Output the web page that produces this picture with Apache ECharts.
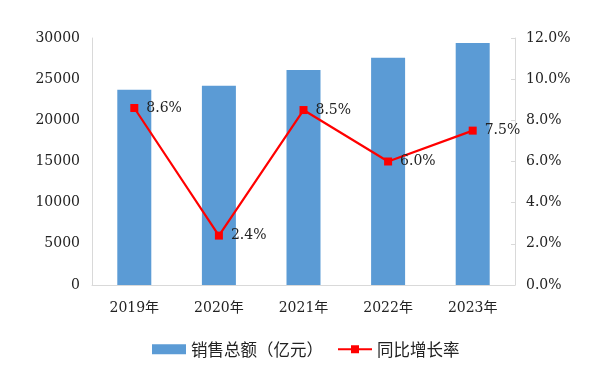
<!DOCTYPE html>
<html><head><meta charset="utf-8">
<script src="https://cdn.jsdelivr.net/npm/echarts@6/dist/echarts.min.js"></script>
<style>html,body{margin:0;padding:0;background:#fff}#c{width:606px;height:367px}</style>
</head><body><div id="c"></div>
<script>
var categories = ['2019年','2020年','2021年','2022年','2023年'];
var salesTotal = [23700, 24200, 26100, 27600, 29400];
var growthRate = [8.6, 2.4, 8.5, 6.0, 7.5];
var leftTicks = [0, 5000, 10000, 15000, 20000, 25000, 30000];
var rightTicks = [0, 2, 4, 6, 8, 10, 12];

var numFont = '"DejaVu Serif","Liberation Serif",serif';
var cjkFont = '"DejaVu Serif","Noto Sans CJK SC",serif';
var chart = echarts.init(document.getElementById('c'));
chart.setOption({
  animation: false,
  grid: {left: 92, right: 91, top: 38, bottom: 82},
  legend: {
    top: 336, left: 147, itemGap: 14, itemWidth: 34, itemHeight: 10,
    textStyle: {fontFamily: '"Noto Sans CJK SC",sans-serif', fontSize: 16.5, color: '#222'},
    data: [
      {name: '销售总额（亿元）', icon: 'rect'},
      {name: '同比增长率'}
    ]
  },
  xAxis: {
    type: 'category', data: categories,
    axisLine: {lineStyle: {color: '#d9d9d9'}},
    axisTick: {show: false},
    axisLabel: {fontFamily: cjkFont, fontSize: 14, color: '#222', margin: 16}
  },
  yAxis: [
    {type: 'value', min: leftTicks[0], max: leftTicks[leftTicks.length-1], interval: 5000,
     axisLine: {show: true, lineStyle: {color: '#d9d9d9'}}, axisTick: {show: false},
     splitLine: {show: false},
     axisLabel: {fontFamily: numFont, fontSize: 14, color: '#222', margin: 12,
       formatter: function (v) { return String(v); }}},
    {type: 'value', min: rightTicks[0], max: rightTicks[rightTicks.length-1], interval: 2,
     position: 'right',
     axisLine: {show: true, lineStyle: {color: '#d9d9d9'}},
     axisTick: {show: true, inside: true, length: 4, lineStyle: {color: '#d9d9d9'}},
     splitLine: {show: false},
     axisLabel: {fontFamily: numFont, fontSize: 14, color: '#222', margin: 11,
       formatter: function (v) { return v.toFixed(1) + '%'; }}}
  ],
  series: [
    {name: '销售总额（亿元）', type: 'bar', data: salesTotal, barWidth: 34,
     itemStyle: {color: '#5b9bd5'}},
    {name: '同比增长率', type: 'line', yAxisIndex: 1, data: growthRate,
     symbol: 'rect', symbolSize: 8,
     lineStyle: {color: '#ff0000', width: 2.2},
     itemStyle: {color: '#ff0000'},
     label: {show: true, position: 'right', distance: 8, fontFamily: numFont, fontSize: 14, color: '#222',
       formatter: function (p) { return p.value.toFixed(1) + '%'; }}}
  ]
});
</script></body></html>
